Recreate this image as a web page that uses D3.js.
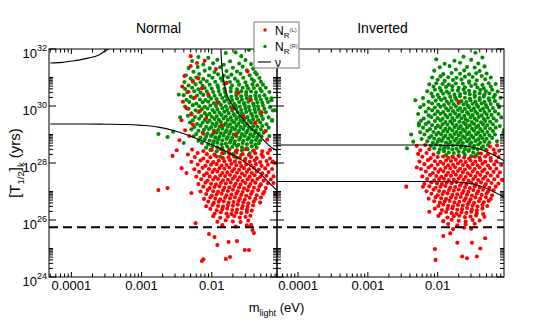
<!DOCTYPE html>
<html><head><meta charset="utf-8">
<script src="https://cdn.jsdelivr.net/npm/d3@7"></script>
<style>body{margin:0;background:#fff}svg text{font-family:"Liberation Sans",Arial,Helvetica,sans-serif}</style>
</head><body><svg id="chart" width="538" height="326"></svg>
<script>
// ---------- data (log10 m_light [eV], log10 T [yr]) ----------
const panelTitles = ["Normal", "Inverted"];
const xTickValues = [1e-4, 1e-3, 1e-2];
const xTickLabels = ["0.0001", "0.001", "0.01"];
const yTickExponents = [24, 26, 28, 30, 32];
const legendLabels = [["N","R","(L)"],["N","R","(R)"],["ν","",""]];
const limitT = 5.6e25;

const normalRR = [[-1.47,31.97],[-1.80,31.86],[-1.66,31.88],[-2.19,31.72],[-2.05,31.69],[-1.58,31.75],[-2.28,31.58],[-1.92,31.62],[-1.74,31.57],[-1.52,31.61],[-2.12,31.46],[-1.98,31.50],[-1.83,31.45],[-1.61,31.49],[-1.44,31.47],[-2.33,31.33],[-2.20,31.37],[-2.03,31.32],[-1.88,31.36],[-1.70,31.34],[-1.56,31.38],[-1.41,31.31],[-2.26,31.20],[-2.10,31.24],[-1.96,31.19],[-1.79,31.23],[-1.64,31.21],[-1.50,31.25],[-1.38,31.18],[-2.37,31.08],[-2.18,31.12],[-2.04,31.07],[-1.91,31.11],[-1.83,31.06],[-1.72,31.10],[-1.59,31.13],[-1.46,31.08],[-1.36,31.11],[-2.30,30.96],[-2.22,31.00],[-2.12,30.95],[-1.99,30.99],[-1.87,30.97],[-1.77,31.01],[-1.67,30.96],[-1.55,30.99],[-1.43,30.95],[-1.32,30.98],[-2.39,30.84],[-2.27,30.88],[-2.16,30.83],[-2.07,30.87],[-1.95,30.85],[-1.85,30.89],[-1.74,30.84],[-1.63,30.87],[-1.52,30.83],[-1.40,30.88],[-1.30,30.85],[-2.33,30.72],[-2.23,30.76],[-2.13,30.71],[-2.03,30.75],[-1.92,30.73],[-1.82,30.77],[-1.71,30.72],[-1.61,30.75],[-1.50,30.71],[-1.42,30.76],[-1.35,30.73],[-1.27,30.75],[-2.38,30.60],[-2.28,30.64],[-2.19,30.59],[-2.10,30.63],[-2.00,30.61],[-1.91,30.65],[-1.82,30.60],[-1.73,30.63],[-1.64,30.59],[-1.56,30.64],[-1.48,30.61],[-1.40,30.63],[-1.31,30.60],[-1.23,30.64],[-2.35,30.48],[-2.25,30.52],[-2.16,30.47],[-2.07,30.51],[-1.98,30.49],[-1.90,30.53],[-1.81,30.48],[-1.73,30.51],[-1.65,30.47],[-1.58,30.52],[-1.51,30.49],[-1.44,30.51],[-1.37,30.48],[-1.29,30.52],[-1.18,30.49],[-2.40,30.38],[-2.30,30.33],[-2.21,30.37],[-2.12,30.39],[-2.04,30.34],[-1.96,30.36],[-1.88,30.40],[-1.80,30.35],[-1.72,30.32],[-1.65,30.38],[-1.58,30.34],[-1.51,30.39],[-1.45,30.33],[-1.38,30.37],[-1.32,30.35],[-1.25,30.38],[-2.36,30.22],[-2.26,30.27],[-2.17,30.23],[-2.09,30.21],[-2.01,30.26],[-1.93,30.24],[-1.85,30.28],[-1.78,30.23],[-1.71,30.20],[-1.64,30.26],[-1.57,30.22],[-1.50,30.27],[-1.44,30.21],[-1.37,30.25],[-1.30,30.23],[-1.22,30.26],[-1.15,30.20],[-2.32,30.14],[-2.22,30.09],[-2.13,30.13],[-2.05,30.15],[-1.97,30.10],[-1.90,30.12],[-1.82,30.16],[-1.75,30.11],[-1.68,30.08],[-1.61,30.14],[-1.54,30.10],[-1.48,30.15],[-1.41,30.09],[-1.35,30.13],[-1.28,30.11],[-1.20,30.14],[-2.38,29.98],[-2.27,30.03],[-2.18,29.99],[-2.10,29.97],[-2.02,30.02],[-1.94,30.00],[-1.87,30.04],[-1.80,29.99],[-1.73,29.96],[-1.66,30.02],[-1.60,29.98],[-1.53,30.03],[-1.47,29.97],[-1.40,30.01],[-1.34,29.99],[-1.27,30.02],[-1.17,29.96],[-2.33,29.90],[-2.23,29.85],[-2.14,29.89],[-2.06,29.91],[-1.99,29.86],[-1.92,29.88],[-1.85,29.92],[-1.78,29.87],[-1.71,29.84],[-1.65,29.90],[-1.58,29.86],[-1.52,29.91],[-1.46,29.85],[-1.39,29.89],[-1.33,29.87],[-1.25,29.90],[-1.13,29.84],[-2.29,29.74],[-2.19,29.79],[-2.10,29.75],[-2.03,29.73],[-1.96,29.78],[-1.89,29.76],[-1.82,29.80],[-1.76,29.75],[-1.69,29.72],[-1.63,29.78],[-1.57,29.74],[-1.51,29.79],[-1.44,29.73],[-1.38,29.77],[-1.31,29.75],[-1.23,29.78],[-2.34,29.66],[-2.24,29.61],[-2.15,29.65],[-2.07,29.67],[-2.00,29.62],[-1.93,29.64],[-1.86,29.68],[-1.80,29.63],[-1.73,29.60],[-1.67,29.66],[-1.61,29.62],[-1.55,29.67],[-1.49,29.61],[-1.42,29.65],[-1.36,29.63],[-1.29,29.66],[-1.19,29.60],[-2.27,29.50],[-2.18,29.55],[-2.10,29.51],[-2.03,29.49],[-1.96,29.54],[-1.90,29.52],[-1.83,29.56],[-1.77,29.51],[-1.71,29.48],[-1.65,29.54],[-1.59,29.50],[-1.53,29.55],[-1.47,29.49],[-1.41,29.53],[-1.34,29.51],[-1.27,29.54],[-1.14,29.48],[-2.31,29.42],[-2.21,29.37],[-2.13,29.41],[-2.06,29.43],[-1.99,29.38],[-1.93,29.40],[-1.87,29.44],[-1.80,29.39],[-1.74,29.36],[-1.68,29.42],[-1.62,29.38],[-1.56,29.43],[-1.50,29.37],[-1.44,29.41],[-1.38,29.39],[-1.31,29.42],[-1.22,29.36],[-2.25,29.26],[-2.16,29.31],[-2.08,29.27],[-2.01,29.25],[-1.95,29.30],[-1.89,29.28],[-1.83,29.32],[-1.77,29.27],[-1.71,29.24],[-1.65,29.30],[-1.59,29.26],[-1.53,29.31],[-1.47,29.25],[-1.41,29.29],[-1.35,29.27],[-1.28,29.30],[-1.19,29.24],[-2.29,29.18],[-2.19,29.13],[-2.11,29.17],[-2.04,29.19],[-1.97,29.14],[-1.91,29.16],[-1.85,29.20],[-1.79,29.15],[-1.73,29.12],[-1.67,29.18],[-1.61,29.14],[-1.55,29.19],[-1.49,29.13],[-1.43,29.17],[-1.37,29.15],[-1.30,29.18],[-1.23,29.12],[-2.22,29.02],[-2.13,29.07],[-2.06,29.03],[-1.99,29.01],[-1.93,29.06],[-1.87,29.04],[-1.81,29.08],[-1.75,29.03],[-1.69,29.00],[-1.63,29.06],[-1.57,29.02],[-1.51,29.07],[-1.45,29.01],[-1.39,29.05],[-1.33,29.03],[-1.26,29.06],[-2.26,28.94],[-2.16,28.89],[-2.08,28.93],[-2.01,28.95],[-1.95,28.90],[-1.89,28.92],[-1.83,28.96],[-1.77,28.91],[-1.71,28.88],[-1.65,28.94],[-1.59,28.90],[-1.53,28.95],[-1.47,28.89],[-1.41,28.93],[-1.35,28.91],[-1.29,28.94],[-2.19,28.78],[-2.10,28.83],[-2.03,28.79],[-1.97,28.77],[-1.91,28.82],[-1.85,28.80],[-1.79,28.84],[-1.73,28.79],[-1.67,28.76],[-1.61,28.82],[-1.55,28.78],[-1.49,28.83],[-1.43,28.77],[-1.37,28.81],[-1.31,28.79],[-2.14,28.70],[-2.05,28.65],[-1.98,28.69],[-1.92,28.71],[-1.86,28.66],[-1.80,28.68],[-1.74,28.72],[-1.68,28.67],[-1.62,28.64],[-1.56,28.70],[-1.50,28.66],[-1.44,28.71],[-1.38,28.65],[-1.33,28.69],[-2.08,28.54],[-1.99,28.59],[-1.92,28.55],[-1.85,28.53],[-1.78,28.58],[-1.71,28.56],[-1.64,28.60],[-1.57,28.55],[-1.50,28.52],[-1.43,28.58],[-1.36,28.54],[-2.02,28.46],[-1.93,28.41],[-1.84,28.45],[-1.75,28.47],[-1.66,28.42],[-1.57,28.44],[-1.49,28.48],[-1.41,28.43],[-1.96,28.30],[-1.82,28.35],[-1.70,28.31],[-1.58,28.29],[-1.46,28.34],[-1.88,28.22],[-1.65,28.18],[-2.76,29.02],[-2.63,28.91],[-2.55,29.10],[-2.45,29.60],[-2.47,30.40],[-1.15,30.27],[-1.14,29.51],[-1.10,29.85],[-1.18,28.95],[-2.40,28.70]];

const normalRL = [[-2.30,31.75],[-2.21,31.51],[-2.10,31.59],[-2.30,31.40],[-1.94,31.30],[-2.39,31.05],[-2.27,30.85],[-2.42,30.68],[-2.33,30.50],[-2.24,30.30],[-2.41,30.15],[-2.36,29.92],[-2.29,29.70],[-2.43,29.50],[-2.27,29.35],[-2.38,29.15],[-2.32,28.95],[-2.46,28.80],[-2.19,30.97],[-2.14,30.62],[-2.05,30.41],[-2.17,29.82],[-2.08,29.57],[-1.92,30.12],[-1.79,30.81],[-1.70,29.91],[-1.62,30.46],[-1.55,29.62],[-1.45,30.22],[-1.38,29.42],[-1.49,31.21],[-1.86,29.32],[-1.97,29.08],[-2.12,29.03],[-1.66,29.01],[-1.29,29.78],[-1.24,29.12],[-1.21,28.82],[-2.76,27.05],[-2.63,27.12],[-2.56,28.25],[-2.43,27.82],[-2.36,27.65],[-2.29,26.95],[-2.50,28.45],[-1.10,28.00],[-1.12,27.30],[-1.09,26.90],[-2.28,28.47],[-2.12,28.42],[-2.00,28.46],[-1.88,28.49],[-1.76,28.43],[-1.64,28.45],[-1.52,28.48],[-1.40,28.44],[-1.28,28.41],[-1.17,28.46],[-2.34,28.30],[-2.20,28.35],[-2.07,28.31],[-1.96,28.29],[-1.85,28.34],[-1.75,28.32],[-1.65,28.36],[-1.56,28.31],[-1.47,28.28],[-1.38,28.34],[-1.29,28.30],[-1.20,28.35],[-2.24,28.21],[-2.12,28.16],[-2.02,28.20],[-1.93,28.22],[-1.84,28.17],[-1.76,28.19],[-1.68,28.23],[-1.60,28.18],[-1.52,28.15],[-1.44,28.21],[-1.36,28.17],[-1.27,28.22],[-1.17,28.16],[-2.29,28.04],[-2.16,28.09],[-2.06,28.05],[-1.98,28.03],[-1.90,28.08],[-1.82,28.06],[-1.74,28.10],[-1.67,28.05],[-1.60,28.02],[-1.53,28.08],[-1.46,28.04],[-1.39,28.09],[-1.31,28.03],[-1.22,28.07],[-1.13,28.05],[-2.20,27.95],[-2.09,27.90],[-2.01,27.94],[-1.93,27.96],[-1.86,27.91],[-1.79,27.93],[-1.72,27.97],[-1.65,27.92],[-1.58,27.89],[-1.51,27.95],[-1.44,27.91],[-1.37,27.96],[-1.29,27.90],[-1.20,27.94],[-2.25,27.78],[-2.13,27.83],[-2.04,27.79],[-1.96,27.77],[-1.89,27.82],[-1.82,27.80],[-1.75,27.84],[-1.68,27.79],[-1.61,27.76],[-1.54,27.82],[-1.47,27.78],[-1.40,27.83],[-1.33,27.77],[-1.24,27.81],[-1.14,27.79],[-2.18,27.69],[-2.07,27.64],[-1.99,27.68],[-1.92,27.70],[-1.85,27.65],[-1.78,27.67],[-1.71,27.71],[-1.64,27.66],[-1.57,27.63],[-1.50,27.69],[-1.43,27.65],[-1.36,27.70],[-1.28,27.64],[-1.19,27.68],[-2.22,27.52],[-2.11,27.57],[-2.03,27.53],[-1.95,27.51],[-1.88,27.56],[-1.81,27.54],[-1.74,27.58],[-1.67,27.53],[-1.60,27.50],[-1.53,27.56],[-1.46,27.52],[-1.39,27.57],[-1.31,27.51],[-1.22,27.55],[-1.12,27.53],[-2.15,27.43],[-2.06,27.38],[-1.98,27.42],[-1.91,27.44],[-1.84,27.39],[-1.77,27.41],[-1.70,27.45],[-1.63,27.40],[-1.56,27.37],[-1.49,27.43],[-1.42,27.39],[-1.35,27.44],[-1.26,27.38],[-1.16,27.42],[-2.19,27.26],[-2.09,27.31],[-2.01,27.27],[-1.94,27.25],[-1.87,27.30],[-1.80,27.28],[-1.73,27.32],[-1.66,27.27],[-1.59,27.24],[-1.52,27.30],[-1.45,27.26],[-1.38,27.31],[-1.30,27.25],[-1.20,27.29],[-2.12,27.17],[-2.03,27.12],[-1.96,27.16],[-1.89,27.18],[-1.82,27.13],[-1.75,27.15],[-1.68,27.19],[-1.61,27.14],[-1.54,27.11],[-1.47,27.17],[-1.40,27.13],[-1.32,27.18],[-1.23,27.12],[-2.16,27.00],[-2.06,27.05],[-1.98,27.01],[-1.91,26.99],[-1.84,27.04],[-1.77,27.02],[-1.70,27.06],[-1.63,27.01],[-1.56,26.98],[-1.49,27.04],[-1.42,27.00],[-1.34,27.05],[-1.25,26.99],[-2.08,26.91],[-2.00,26.86],[-1.93,26.90],[-1.86,26.92],[-1.79,26.87],[-1.72,26.89],[-1.65,26.93],[-1.58,26.88],[-1.51,26.85],[-1.44,26.91],[-1.36,26.87],[-1.27,26.92],[-2.11,26.74],[-2.02,26.79],[-1.95,26.75],[-1.88,26.73],[-1.81,26.78],[-1.74,26.76],[-1.67,26.80],[-1.60,26.75],[-1.53,26.72],[-1.46,26.78],[-1.38,26.74],[-1.30,26.79],[-2.05,26.65],[-1.97,26.60],[-1.90,26.64],[-1.83,26.66],[-1.76,26.61],[-1.69,26.63],[-1.62,26.67],[-1.55,26.62],[-1.48,26.59],[-1.40,26.65],[-1.31,26.61],[-2.08,26.48],[-1.99,26.53],[-1.91,26.49],[-1.84,26.47],[-1.77,26.52],[-1.70,26.50],[-1.63,26.54],[-1.56,26.49],[-1.49,26.46],[-1.41,26.52],[-2.02,26.39],[-1.93,26.34],[-1.85,26.38],[-1.78,26.40],[-1.71,26.35],[-1.64,26.37],[-1.57,26.41],[-1.50,26.36],[-1.43,26.33],[-1.96,26.22],[-1.87,26.27],[-1.79,26.23],[-1.72,26.21],[-1.65,26.26],[-1.58,26.24],[-1.50,26.28],[-1.98,26.13],[-1.88,26.08],[-1.77,26.12],[-1.68,26.14],[-1.60,26.09],[-1.52,26.11],[-1.45,26.15],[-1.92,25.94],[-1.80,25.99],[-1.70,25.95],[-1.59,25.93],[-1.48,25.98],[-1.85,25.82],[-1.66,25.77],[-1.50,25.81],[-1.44,25.83],[-2.14,24.56],[-2.12,24.62],[-1.80,24.63],[-1.74,24.70],[-1.53,24.95],[-1.47,24.95],[-2.04,25.51],[-1.96,25.40],[-1.92,25.12],[-1.76,25.23],[-1.64,25.26],[-1.42,25.65],[-1.40,25.54],[-2.23,25.89],[-1.06,24.55]];

const invertedRR = [[-1.46,31.87],[-1.63,31.73],[-1.36,31.70],[-2.02,31.64],[-1.76,31.59],[-1.52,31.62],[-1.90,31.48],[-1.68,31.52],[-1.42,31.49],[-1.97,31.36],[-1.83,31.40],[-1.58,31.37],[-1.47,31.35],[-1.33,31.39],[-2.05,31.24],[-1.74,31.28],[-1.62,31.25],[-1.40,31.23],[-1.92,31.12],[-1.80,31.16],[-1.68,31.13],[-1.55,31.11],[-1.45,31.15],[-1.30,31.14],[-2.08,31.00],[-1.96,31.04],[-1.85,31.01],[-1.73,30.99],[-1.61,31.03],[-1.50,31.02],[-1.37,31.05],[-1.24,31.00],[-2.00,30.92],[-1.90,30.88],[-1.78,30.91],[-1.66,30.93],[-1.55,30.87],[-1.44,30.90],[-1.32,30.94],[-2.12,30.76],[-2.02,30.80],[-1.93,30.77],[-1.84,30.75],[-1.74,30.79],[-1.64,30.78],[-1.55,30.82],[-1.46,30.76],[-1.36,30.74],[-1.27,30.80],[-1.17,30.77],[-2.06,30.68],[-1.97,30.63],[-1.88,30.67],[-1.79,30.69],[-1.70,30.64],[-1.61,30.66],[-1.52,30.70],[-1.43,30.65],[-1.34,30.62],[-1.24,30.68],[-2.15,30.52],[-2.04,30.57],[-1.95,30.53],[-1.87,30.51],[-1.79,30.56],[-1.71,30.54],[-1.63,30.58],[-1.55,30.53],[-1.47,30.50],[-1.39,30.56],[-1.31,30.52],[-1.22,30.57],[-1.14,30.51],[-2.09,30.44],[-2.00,30.39],[-1.92,30.43],[-1.84,30.45],[-1.76,30.40],[-1.68,30.42],[-1.61,30.46],[-1.54,30.41],[-1.47,30.38],[-1.40,30.44],[-1.33,30.40],[-1.26,30.45],[-1.18,30.39],[-2.21,30.28],[-2.07,30.33],[-1.98,30.29],[-1.90,30.27],[-1.82,30.32],[-1.75,30.30],[-1.68,30.34],[-1.61,30.29],[-1.54,30.26],[-1.47,30.32],[-1.40,30.28],[-1.34,30.33],[-1.27,30.27],[-1.20,30.31],[-1.10,30.29],[-2.32,30.20],[-2.13,30.15],[-2.03,30.19],[-1.95,30.21],[-1.87,30.16],[-1.80,30.18],[-1.73,30.22],[-1.66,30.17],[-1.59,30.14],[-1.53,30.20],[-1.46,30.16],[-1.40,30.21],[-1.33,30.15],[-1.26,30.19],[-1.18,30.17],[-2.20,30.04],[-2.08,30.09],[-1.99,30.05],[-1.91,30.03],[-1.84,30.08],[-1.77,30.06],[-1.70,30.10],[-1.63,30.05],[-1.57,30.02],[-1.50,30.08],[-1.44,30.04],[-1.37,30.09],[-1.31,30.03],[-1.24,30.07],[-1.14,30.05],[-2.25,29.96],[-2.13,29.91],[-2.04,29.95],[-1.96,29.97],[-1.88,29.92],[-1.81,29.94],[-1.74,29.98],[-1.68,29.93],[-1.61,29.90],[-1.55,29.96],[-1.48,29.92],[-1.42,29.97],[-1.35,29.91],[-1.29,29.95],[-1.21,29.93],[-1.12,29.96],[-2.17,29.80],[-2.08,29.85],[-2.00,29.81],[-1.92,29.79],[-1.85,29.84],[-1.78,29.82],[-1.71,29.86],[-1.65,29.81],[-1.58,29.78],[-1.52,29.84],[-1.46,29.80],[-1.39,29.85],[-1.33,29.79],[-1.26,29.83],[-1.18,29.81],[-2.28,29.72],[-2.13,29.67],[-2.04,29.71],[-1.96,29.73],[-1.89,29.68],[-1.82,29.70],[-1.75,29.74],[-1.69,29.69],[-1.62,29.66],[-1.56,29.72],[-1.50,29.68],[-1.43,29.73],[-1.37,29.67],[-1.30,29.71],[-1.23,29.69],[-1.13,29.72],[-2.20,29.56],[-2.09,29.61],[-2.00,29.57],[-1.93,29.55],[-1.86,29.60],[-1.79,29.58],[-1.72,29.62],[-1.66,29.57],[-1.60,29.54],[-1.53,29.60],[-1.47,29.56],[-1.41,29.61],[-1.34,29.55],[-1.28,29.59],[-1.20,29.57],[-1.09,29.60],[-2.24,29.48],[-2.13,29.43],[-2.04,29.47],[-1.96,29.49],[-1.89,29.44],[-1.82,29.46],[-1.76,29.50],[-1.69,29.45],[-1.63,29.42],[-1.57,29.48],[-1.51,29.44],[-1.44,29.49],[-1.38,29.43],[-1.32,29.47],[-1.25,29.45],[-1.16,29.48],[-2.27,29.32],[-2.17,29.37],[-2.08,29.33],[-2.00,29.31],[-1.93,29.36],[-1.86,29.34],[-1.79,29.38],[-1.73,29.33],[-1.67,29.30],[-1.60,29.36],[-1.54,29.32],[-1.48,29.37],[-1.42,29.31],[-1.35,29.35],[-1.29,29.33],[-1.21,29.36],[-1.11,29.30],[-2.21,29.24],[-2.11,29.19],[-2.03,29.23],[-1.96,29.25],[-1.89,29.20],[-1.83,29.22],[-1.76,29.26],[-1.70,29.21],[-1.64,29.18],[-1.58,29.24],[-1.51,29.20],[-1.45,29.25],[-1.39,29.19],[-1.32,29.23],[-1.25,29.21],[-1.17,29.24],[-2.25,29.08],[-2.15,29.13],[-2.06,29.09],[-1.99,29.07],[-1.92,29.12],[-1.86,29.10],[-1.79,29.14],[-1.73,29.09],[-1.67,29.06],[-1.61,29.12],[-1.55,29.08],[-1.48,29.13],[-1.42,29.07],[-1.36,29.11],[-1.29,29.09],[-1.21,29.12],[-1.06,29.06],[-2.19,29.00],[-2.09,28.95],[-2.02,28.99],[-1.95,29.01],[-1.89,28.96],[-1.82,28.98],[-1.76,29.02],[-1.70,28.97],[-1.64,28.94],[-1.58,29.00],[-1.52,28.96],[-1.45,29.01],[-1.39,28.95],[-1.33,28.99],[-1.26,28.97],[-1.18,29.00],[-2.23,28.84],[-2.12,28.89],[-2.05,28.85],[-1.98,28.83],[-1.92,28.88],[-1.85,28.86],[-1.79,28.90],[-1.73,28.85],[-1.67,28.82],[-1.61,28.88],[-1.55,28.84],[-1.49,28.89],[-1.42,28.83],[-1.36,28.87],[-1.30,28.85],[-1.22,28.88],[-2.15,28.76],[-2.07,28.71],[-2.00,28.75],[-1.94,28.77],[-1.88,28.72],[-1.82,28.74],[-1.76,28.78],[-1.70,28.73],[-1.64,28.70],[-1.58,28.76],[-1.52,28.72],[-1.46,28.77],[-1.39,28.71],[-1.33,28.75],[-1.26,28.73],[-1.15,28.76],[-2.10,28.60],[-2.02,28.65],[-1.96,28.61],[-1.90,28.59],[-1.84,28.64],[-1.78,28.62],[-1.72,28.66],[-1.66,28.61],[-1.60,28.58],[-1.54,28.64],[-1.48,28.60],[-1.42,28.65],[-1.35,28.59],[-1.28,28.63],[-2.05,28.52],[-1.97,28.47],[-1.91,28.51],[-1.85,28.53],[-1.79,28.48],[-1.73,28.50],[-1.67,28.54],[-1.61,28.49],[-1.55,28.46],[-1.49,28.52],[-1.43,28.48],[-1.37,28.53],[-1.31,28.47],[-1.99,28.36],[-1.91,28.41],[-1.84,28.37],[-1.77,28.35],[-1.70,28.40],[-1.63,28.38],[-1.56,28.42],[-1.49,28.37],[-1.42,28.34],[-1.88,28.28],[-1.79,28.23],[-1.70,28.27],[-1.61,28.29],[-1.52,28.24],[-1.45,28.26],[-2.44,28.52],[-2.27,29.39],[-1.05,29.16],[-2.38,29.00],[-2.35,28.75]];

const invertedRL = [[-2.30,28.60],[-2.18,28.63],[-1.25,28.58],[-1.15,28.62],[-2.25,28.45],[-2.12,28.48],[-1.30,28.44],[-1.20,28.47],[-1.12,28.43],[-2.28,28.32],[-2.16,28.35],[-2.06,28.30],[-1.38,28.33],[-1.28,28.31],[-1.18,28.34],[-2.22,28.22],[-2.10,28.17],[-2.00,28.21],[-1.92,28.23],[-1.85,28.18],[-1.78,28.20],[-1.70,28.24],[-1.62,28.19],[-1.55,28.16],[-1.47,28.22],[-1.40,28.18],[-1.32,28.23],[-1.24,28.17],[-1.13,28.21],[-2.26,28.05],[-2.14,28.10],[-2.04,28.06],[-1.96,28.04],[-1.88,28.09],[-1.81,28.07],[-1.74,28.11],[-1.67,28.06],[-1.60,28.03],[-1.53,28.09],[-1.46,28.05],[-1.39,28.10],[-1.32,28.04],[-1.24,28.08],[-1.16,28.06],[-2.19,27.96],[-2.09,27.91],[-2.00,27.95],[-1.92,27.97],[-1.85,27.92],[-1.78,27.94],[-1.71,27.98],[-1.64,27.93],[-1.57,27.90],[-1.50,27.96],[-1.43,27.92],[-1.36,27.97],[-1.28,27.91],[-1.19,27.95],[-1.09,27.93],[-2.24,27.79],[-2.13,27.84],[-2.04,27.80],[-1.96,27.78],[-1.89,27.83],[-1.82,27.81],[-1.75,27.85],[-1.68,27.80],[-1.61,27.77],[-1.54,27.83],[-1.47,27.79],[-1.40,27.84],[-1.33,27.78],[-1.25,27.82],[-1.16,27.80],[-2.17,27.70],[-2.07,27.65],[-1.99,27.69],[-1.92,27.71],[-1.85,27.66],[-1.78,27.68],[-1.71,27.72],[-1.64,27.67],[-1.57,27.64],[-1.50,27.70],[-1.43,27.66],[-1.36,27.71],[-1.29,27.65],[-1.20,27.69],[-1.11,27.67],[-2.22,27.53],[-2.11,27.58],[-2.02,27.54],[-1.95,27.52],[-1.88,27.57],[-1.81,27.55],[-1.74,27.59],[-1.67,27.54],[-1.60,27.51],[-1.53,27.57],[-1.46,27.53],[-1.39,27.58],[-1.32,27.52],[-1.24,27.56],[-1.14,27.54],[-2.15,27.44],[-2.05,27.39],[-1.98,27.43],[-1.91,27.45],[-1.84,27.40],[-1.77,27.42],[-1.70,27.46],[-1.63,27.41],[-1.56,27.38],[-1.49,27.44],[-1.42,27.40],[-1.35,27.45],[-1.28,27.39],[-1.19,27.43],[-1.08,27.41],[-2.19,27.27],[-2.09,27.32],[-2.01,27.28],[-1.94,27.26],[-1.87,27.31],[-1.80,27.29],[-1.73,27.33],[-1.66,27.28],[-1.59,27.25],[-1.52,27.31],[-1.45,27.27],[-1.38,27.32],[-1.31,27.26],[-1.23,27.30],[-1.13,27.28],[-2.12,27.18],[-2.03,27.13],[-1.96,27.17],[-1.89,27.19],[-1.82,27.14],[-1.75,27.16],[-1.68,27.20],[-1.61,27.15],[-1.54,27.12],[-1.47,27.18],[-1.40,27.14],[-1.33,27.19],[-1.26,27.13],[-1.17,27.17],[-2.16,27.01],[-2.06,27.06],[-1.98,27.02],[-1.91,27.00],[-1.84,27.05],[-1.77,27.03],[-1.70,27.07],[-1.63,27.02],[-1.56,26.99],[-1.49,27.05],[-1.42,27.01],[-1.35,27.06],[-1.28,27.00],[-1.20,27.04],[-2.09,26.92],[-2.00,26.87],[-1.93,26.91],[-1.86,26.93],[-1.79,26.88],[-1.72,26.90],[-1.65,26.94],[-1.58,26.89],[-1.51,26.86],[-1.44,26.92],[-1.37,26.88],[-1.30,26.93],[-1.22,26.87],[-2.13,26.75],[-2.03,26.80],[-1.95,26.76],[-1.88,26.74],[-1.81,26.79],[-1.74,26.77],[-1.67,26.81],[-1.60,26.76],[-1.53,26.73],[-1.46,26.79],[-1.39,26.75],[-1.31,26.80],[-1.24,26.74],[-2.05,26.66],[-1.97,26.61],[-1.90,26.65],[-1.83,26.67],[-1.76,26.62],[-1.69,26.64],[-1.62,26.68],[-1.55,26.63],[-1.48,26.60],[-1.41,26.66],[-1.34,26.62],[-1.27,26.67],[-1.99,26.49],[-1.92,26.54],[-1.85,26.50],[-1.78,26.48],[-1.71,26.53],[-1.64,26.51],[-1.57,26.55],[-1.50,26.50],[-1.43,26.47],[-1.36,26.53],[-1.29,26.49],[-2.04,26.40],[-1.94,26.35],[-1.86,26.39],[-1.79,26.41],[-1.72,26.36],[-1.65,26.38],[-1.58,26.42],[-1.51,26.37],[-1.44,26.34],[-1.36,26.40],[-1.96,26.23],[-1.88,26.28],[-1.80,26.24],[-1.73,26.22],[-1.66,26.27],[-1.59,26.25],[-1.52,26.29],[-1.44,26.24],[-1.35,26.21],[-1.99,26.14],[-1.86,26.09],[-1.77,26.13],[-1.69,26.15],[-1.61,26.10],[-1.53,26.12],[-1.45,26.16],[-1.33,26.11],[-1.92,25.96],[-1.80,26.01],[-1.70,25.97],[-1.60,25.95],[-1.50,26.00],[-1.40,25.98],[-1.85,25.86],[-1.72,25.81],[-1.60,25.85],[-1.47,25.87],[-1.78,25.68],[-1.62,25.73],[-1.52,25.69],[-2.45,27.17],[-2.30,27.84],[-2.21,27.17],[-2.12,26.29],[-2.04,24.98],[-2.03,24.60],[-1.72,25.20],[-1.65,24.72],[-1.58,24.66],[-1.44,24.72],[-1.32,25.36],[-1.92,25.44],[-1.82,25.53],[-1.51,25.20],[-1.39,25.00],[-1.06,27.40],[-1.70,30.15]];

// light-neutrino (ν) curves
const normalNuA = [[-4.30,31.51],[-4.14,31.53],[-3.96,31.59],[-3.76,31.68],[-3.60,31.80],[-3.52,31.93],[-3.46,32.02]];
const normalNuB = [[-4.30,29.37],[-3.80,29.37],[-3.50,29.36],[-3.24,29.35],[-3.00,29.32],[-2.76,29.26],[-2.52,29.12],[-2.29,28.93],[-2.05,28.69],[-1.81,28.42],[-1.57,28.10],[-1.33,27.67],[-1.10,27.10],[-1.01,26.90]];
const normalNuC = [[-1.87,32.05],[-1.86,31.50],[-1.83,30.91],[-1.79,30.45],[-1.72,30.09],[-1.62,29.74],[-1.48,29.33],[-1.33,28.98],[-1.19,28.63],[-1.01,28.34]];
const invertedNuA = [[-4.30,28.63],[-3.00,28.63],[-2.20,28.63],[-1.82,28.62],[-1.63,28.60],[-1.44,28.52],[-1.25,28.34],[-1.05,28.08]];
const invertedNuB = [[-4.30,27.35],[-2.20,27.35],[-1.82,27.34],[-1.63,27.31],[-1.44,27.23],[-1.25,27.05],[-1.05,26.80]];

// ---------- layout ----------
const RED = "#ff0000", GREEN = "#008c00";
const TOP = 49, BOTTOM = 277, DOT_R = 2.05;
const panels = [
  {title: panelTitles[0], range: [49, 277], domain: [4.8e-5, 0.085], rl: normalRL, rr: normalRR, nu: [normalNuA, normalNuB, normalNuC], titleX: 158.5, yLabels: true},
  {title: panelTitles[1], range: [277, 504], domain: [5.0e-5, 0.089], rl: invertedRL, rr: invertedRR, nu: [invertedNuA, invertedNuB], titleX: 382.5, yLabels: false}
];

const svg = d3.select("#chart");
const y = d3.scaleLog().domain([1e24, 1e32]).range([BOTTOM, TOP]);
const toVal = d => [Math.pow(10, d[0]), Math.pow(10, d[1])];

const yMinor = [];
yTickExponents.slice(0, -1).forEach(e => { for (let k = 2; k <= 10; k++) yMinor.push(k * Math.pow(10, e)); });
const yMajor = yTickExponents.map(e => Math.pow(10, e));

let xScales = [];
panels.forEach((p, i) => {
  const x = d3.scaleLog().domain(p.domain).range(p.range);
  xScales.push(x);
  const [x0, x1] = p.range;
  const clipId = "clip" + i;
  svg.append("clipPath").attr("id", clipId).append("rect")
    .attr("x", x0).attr("y", TOP).attr("width", x1 - x0).attr("height", BOTTOM - TOP);
  const g = svg.append("g").attr("clip-path", `url(#${clipId})`);

  g.append("g").selectAll("circle").data(p.rr.map(toVal)).join("circle")
    .attr("cx", d => x(d[0])).attr("cy", d => y(d[1])).attr("r", DOT_R).attr("fill", GREEN);
  g.append("g").selectAll("circle").data(p.rl.map(toVal)).join("circle")
    .attr("cx", d => x(d[0])).attr("cy", d => y(d[1])).attr("r", DOT_R).attr("fill", RED);

  const line = d3.line().x(d => x(d[0])).y(d => y(d[1])).curve(d3.curveMonotoneX);
  p.nu.forEach(c => g.append("path").datum(c.map(toVal)).attr("d", line)
    .attr("fill", "none").attr("stroke", "#000").attr("stroke-width", 1.1));

  // frame
  svg.append("rect").attr("x", x0).attr("y", TOP).attr("width", x1 - x0).attr("height", BOTTOM - TOP)
    .attr("fill", "none").attr("stroke", "#000").attr("stroke-width", 1);

  // x ticks
  const [a, b] = x.domain();
  const xt = [];
  for (let n = -6; n <= 0; n++) for (let k = 1; k <= 9; k++) {
    const v = k * Math.pow(10, n);
    if (v >= a && v <= b) xt.push({v, major: k === 1});
  }
  const tg = svg.append("g").attr("stroke", "#000").attr("stroke-width", 1);
  xt.forEach(t => {
    const px = x(t.v), len = t.major ? 5 : 3.5;
    tg.append("line").attr("x1", px).attr("x2", px).attr("y1", BOTTOM).attr("y2", BOTTOM - len);
    tg.append("line").attr("x1", px).attr("x2", px).attr("y1", TOP).attr("y2", TOP + len);
  });
  // y ticks
  [[yMajor, 7], [yMinor, 4]].forEach(([vals, len]) => vals.forEach(v => {
    const py = y(v);
    tg.append("line").attr("x1", x0).attr("x2", x0 + len).attr("y1", py).attr("y2", py);
    tg.append("line").attr("x1", x1).attr("x2", x1 - len).attr("y1", py).attr("y2", py);
  }));

  // x tick labels
  xTickValues.forEach((v, j) => {
    svg.append("text").attr("x", x(v)).attr("y", 290).attr("text-anchor", "middle")
      .attr("font-size", 13).text(xTickLabels[j]);
  });
  // y tick labels
  if (p.yLabels) yTickExponents.forEach(e => {
    const t = svg.append("text").attr("x", 47).attr("y", y(Math.pow(10, e)) + 9)
      .attr("text-anchor", "end").attr("font-size", 13);
    t.append("tspan").text("10");
    t.append("tspan").attr("dy", -7).attr("font-size", 9).text(String(e));
  });
  // title
  svg.append("text").attr("x", p.titleX).attr("y", 33).attr("text-anchor", "middle")
    .attr("font-size", 14).text(p.title);
});

// dashed experimental bound across both panels
svg.append("line").attr("x1", xScales[0].range()[0]).attr("x2", xScales[1].range()[1])
  .attr("y1", y(limitT)).attr("y2", y(limitT))
  .attr("stroke", "#000").attr("stroke-width", 2).attr("stroke-dasharray", "9,5");

// axis titles
const xl = svg.append("text").attr("x", 276.5).attr("y", 312).attr("text-anchor", "middle").attr("font-size", 13);
xl.append("tspan").text("m");
xl.append("tspan").attr("font-size", 9).attr("dy", 4).text("light");
xl.append("tspan").attr("dy", -4).text(" (eV)");

const yl = svg.append("text").attr("transform", "translate(20,163) rotate(-90)")
  .attr("text-anchor", "middle").attr("font-size", 15);
yl.append("tspan").text("[T");
yl.append("tspan").attr("font-size", 9.5).attr("dy", 4).text("1/2");
yl.append("tspan").attr("dy", -4).text("]");
yl.append("tspan").attr("font-size", 9.5).attr("dy", 4).text("k");
yl.append("tspan").attr("dy", -4).text(" (yrs)");

// legend
const lg = svg.append("g");
lg.append("rect").attr("x", 254).attr("y", 22).attr("width", 45).attr("height", 46)
  .attr("fill", "#fff").attr("stroke", "#777").attr("stroke-width", 1);
const rowsY = [30, 46.5, 62];
[RED, GREEN].forEach((c, i) => lg.append("circle").attr("cx", 265).attr("cy", rowsY[i]).attr("r", 1.7).attr("fill", c));
lg.append("line").attr("x1", 258).attr("x2", 271).attr("y1", rowsY[2]).attr("y2", rowsY[2]).attr("stroke", "#000").attr("stroke-width", 1.1);
legendLabels.forEach((lab, i) => {
  const t = lg.append("text").attr("x", 275).attr("y", rowsY[i] + 4.5).attr("font-size", 12);
  t.append("tspan").text(lab[0]);
  if (lab[1]) {
    t.append("tspan").attr("font-size", 8).attr("dy", 3).text(lab[1]);
    t.append("tspan").attr("font-size", 6).attr("dy", -6).attr("fill", "#333").text(lab[2]);
  }
});
</script>
</body></html>
